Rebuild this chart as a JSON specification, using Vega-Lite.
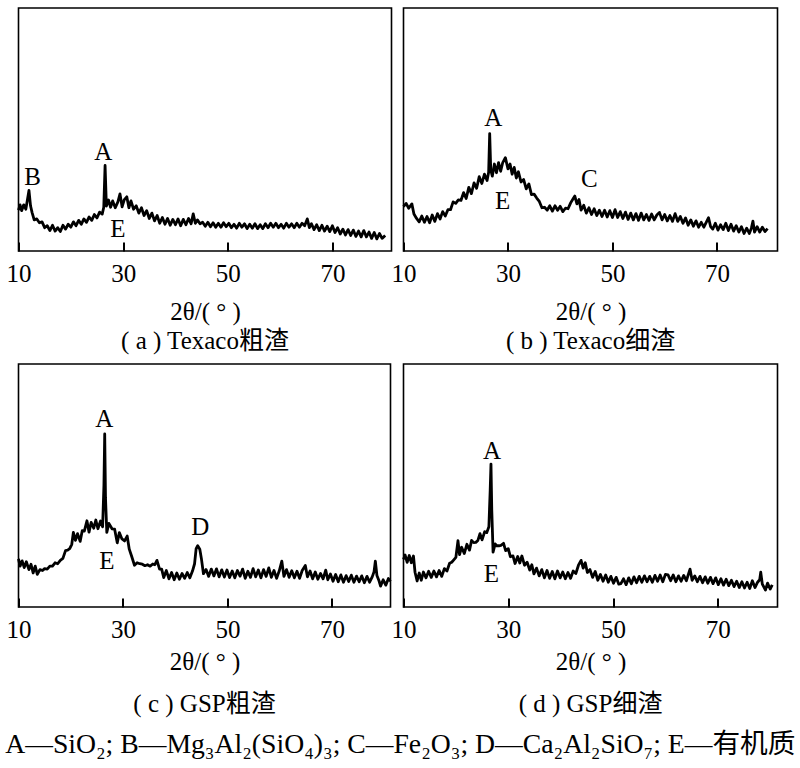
{
  "$schema": "https://vega.github.io/schema/vega-lite/v6.json",
  "background": "white",
  "padding": {"left": 4.5, "top": 7, "right": 0, "bottom": 0},
  "align": "none",
  "columns": 2,
  "spacing": {"row": 8, "column": -4},
  "title": {
    "text": "A—SiO₂; B—Mg₃Al₂(SiO₄)₃; C—Fe₂O₃; D—Ca₂Al₂SiO₇; E—有机质",
    "orient": "bottom",
    "anchor": "start",
    "frame": "bounds",
    "fontSize": 27.7,
    "offset": 13
  },
  "datasets": {
    "a": [
      {"t": 10.0, "i": 16.8}, {"t": 10.3, "i": 19.0}, {"t": 10.6, "i": 16.6}, {"t": 11.0, "i": 19.0}, {"t": 11.4, "i": 17.2},
      {"t": 11.7, "i": 21.0}, {"t": 12.0, "i": 24.9}, {"t": 12.3, "i": 18.6}, {"t": 12.6, "i": 15.8}, {"t": 13.0, "i": 12.8},
      {"t": 13.5, "i": 13.2}, {"t": 14.0, "i": 11.6}, {"t": 14.5, "i": 12.0}, {"t": 15.0, "i": 9.6}, {"t": 15.5, "i": 10.4},
      {"t": 16.0, "i": 8.4}, {"t": 16.5, "i": 10.6}, {"t": 17.0, "i": 8.2}, {"t": 17.5, "i": 9.6}, {"t": 18.0, "i": 8.0},
      {"t": 18.5, "i": 10.6}, {"t": 19.0, "i": 9.0}, {"t": 19.5, "i": 11.0}, {"t": 20.0, "i": 9.8}, {"t": 20.5, "i": 12.0},
      {"t": 21.0, "i": 10.4}, {"t": 21.5, "i": 12.6}, {"t": 22.0, "i": 11.0}, {"t": 22.5, "i": 13.2}, {"t": 23.0, "i": 11.8},
      {"t": 23.5, "i": 14.0}, {"t": 24.0, "i": 12.6}, {"t": 24.5, "i": 15.0}, {"t": 25.0, "i": 13.6}, {"t": 25.5, "i": 16.0},
      {"t": 26.0, "i": 15.2}, {"t": 26.3, "i": 18.0}, {"t": 26.55, "i": 35.2}, {"t": 26.8, "i": 18.5}, {"t": 27.2, "i": 21.0},
      {"t": 27.6, "i": 18.0}, {"t": 28.0, "i": 20.6}, {"t": 28.5, "i": 17.8}, {"t": 29.0, "i": 20.2}, {"t": 29.4, "i": 23.5},
      {"t": 29.8, "i": 18.2}, {"t": 30.2, "i": 21.0}, {"t": 30.7, "i": 22.3}, {"t": 31.1, "i": 17.8}, {"t": 31.5, "i": 20.6},
      {"t": 32.0, "i": 17.2}, {"t": 32.5, "i": 18.6}, {"t": 33.0, "i": 15.6}, {"t": 33.5, "i": 17.8}, {"t": 34.0, "i": 14.6},
      {"t": 34.5, "i": 16.6}, {"t": 35.0, "i": 13.4}, {"t": 35.5, "i": 15.6}, {"t": 36.0, "i": 12.4}, {"t": 36.5, "i": 14.6},
      {"t": 37.0, "i": 11.4}, {"t": 37.5, "i": 13.8}, {"t": 38.0, "i": 11.0}, {"t": 38.5, "i": 13.4}, {"t": 39.0, "i": 10.6},
      {"t": 39.5, "i": 13.0}, {"t": 40.0, "i": 10.8}, {"t": 40.5, "i": 13.2}, {"t": 41.0, "i": 10.4}, {"t": 41.5, "i": 13.0},
      {"t": 42.0, "i": 10.8}, {"t": 42.5, "i": 13.4}, {"t": 43.0, "i": 11.2}, {"t": 43.4, "i": 15.3}, {"t": 43.8, "i": 11.4},
      {"t": 44.2, "i": 12.8}, {"t": 44.7, "i": 11.2}, {"t": 45.2, "i": 11.8}, {"t": 45.7, "i": 10.2}, {"t": 46.2, "i": 11.8},
      {"t": 46.7, "i": 10.0}, {"t": 47.2, "i": 11.6}, {"t": 47.7, "i": 9.8}, {"t": 48.2, "i": 11.4}, {"t": 48.7, "i": 9.8},
      {"t": 49.2, "i": 11.6}, {"t": 49.7, "i": 10.0}, {"t": 50.2, "i": 11.4}, {"t": 50.7, "i": 9.6}, {"t": 51.2, "i": 11.0},
      {"t": 51.7, "i": 9.4}, {"t": 52.2, "i": 11.4}, {"t": 52.7, "i": 9.8}, {"t": 53.2, "i": 11.2}, {"t": 53.7, "i": 9.2},
      {"t": 54.2, "i": 11.0}, {"t": 54.7, "i": 9.4}, {"t": 55.2, "i": 11.2}, {"t": 55.7, "i": 9.2}, {"t": 56.2, "i": 10.8},
      {"t": 56.7, "i": 9.2}, {"t": 57.2, "i": 11.2}, {"t": 57.7, "i": 9.6}, {"t": 58.2, "i": 11.4}, {"t": 58.7, "i": 9.8},
      {"t": 59.2, "i": 11.4}, {"t": 59.7, "i": 9.6}, {"t": 60.2, "i": 11.0}, {"t": 60.7, "i": 9.4}, {"t": 61.2, "i": 11.4},
      {"t": 61.7, "i": 9.8}, {"t": 62.2, "i": 11.2}, {"t": 62.7, "i": 9.6}, {"t": 63.2, "i": 11.4}, {"t": 63.7, "i": 9.8},
      {"t": 64.2, "i": 11.4}, {"t": 64.7, "i": 10.4}, {"t": 65.2, "i": 13.2}, {"t": 65.6, "i": 9.6}, {"t": 66.0, "i": 11.2},
      {"t": 66.5, "i": 8.8}, {"t": 67.0, "i": 10.8}, {"t": 67.5, "i": 8.4}, {"t": 68.0, "i": 10.6}, {"t": 68.5, "i": 8.2},
      {"t": 69.0, "i": 10.2}, {"t": 69.5, "i": 8.0}, {"t": 70.0, "i": 10.4}, {"t": 70.5, "i": 7.6}, {"t": 71.0, "i": 9.6},
      {"t": 71.5, "i": 7.0}, {"t": 72.0, "i": 9.0}, {"t": 72.5, "i": 6.6}, {"t": 73.0, "i": 8.8}, {"t": 73.5, "i": 6.4},
      {"t": 74.0, "i": 8.6}, {"t": 74.5, "i": 6.0}, {"t": 75.0, "i": 8.2}, {"t": 75.5, "i": 5.8}, {"t": 76.0, "i": 8.4},
      {"t": 76.5, "i": 5.8}, {"t": 77.0, "i": 7.8}, {"t": 77.5, "i": 5.2}, {"t": 78.0, "i": 7.6}, {"t": 78.5, "i": 5.0},
      {"t": 79.0, "i": 7.2}, {"t": 79.5, "i": 5.2}, {"t": 80.1, "i": 6.4}
    ],
    "b": [
      {"t": 10.0, "i": 18.3}, {"t": 10.5, "i": 19.6}, {"t": 11.0, "i": 17.6}, {"t": 11.6, "i": 19.4}, {"t": 12.0, "i": 15.2},
      {"t": 12.5, "i": 13.4}, {"t": 13.0, "i": 12.0}, {"t": 13.5, "i": 14.4}, {"t": 14.0, "i": 11.8}, {"t": 14.5, "i": 14.2},
      {"t": 15.0, "i": 11.6}, {"t": 15.5, "i": 14.8}, {"t": 16.0, "i": 12.2}, {"t": 16.5, "i": 15.4}, {"t": 17.0, "i": 13.2},
      {"t": 17.5, "i": 16.2}, {"t": 18.0, "i": 14.4}, {"t": 18.5, "i": 17.0}, {"t": 19.0, "i": 17.0}, {"t": 19.5, "i": 20.2},
      {"t": 20.0, "i": 19.6}, {"t": 20.5, "i": 21.0}, {"t": 21.0, "i": 20.8}, {"t": 21.5, "i": 24.0}, {"t": 22.0, "i": 21.6},
      {"t": 22.5, "i": 26.2}, {"t": 23.0, "i": 23.6}, {"t": 23.5, "i": 28.0}, {"t": 24.0, "i": 25.8}, {"t": 24.5, "i": 30.6},
      {"t": 25.0, "i": 27.8}, {"t": 25.5, "i": 31.6}, {"t": 26.0, "i": 29.0}, {"t": 26.3, "i": 32.4}, {"t": 26.5, "i": 48.3},
      {"t": 26.7, "i": 33.5}, {"t": 27.0, "i": 30.8}, {"t": 27.4, "i": 35.8}, {"t": 27.8, "i": 32.2}, {"t": 28.2, "i": 36.4},
      {"t": 28.6, "i": 32.8}, {"t": 29.0, "i": 36.4}, {"t": 29.5, "i": 38.4}, {"t": 30.0, "i": 33.8}, {"t": 30.4, "i": 35.8},
      {"t": 30.8, "i": 31.6}, {"t": 31.2, "i": 34.4}, {"t": 31.6, "i": 30.0}, {"t": 32.0, "i": 32.6}, {"t": 32.5, "i": 28.4},
      {"t": 33.0, "i": 29.4}, {"t": 33.5, "i": 25.6}, {"t": 34.0, "i": 27.6}, {"t": 34.5, "i": 23.2}, {"t": 35.0, "i": 23.4},
      {"t": 35.5, "i": 21.8}, {"t": 36.0, "i": 20.4}, {"t": 36.5, "i": 17.8}, {"t": 37.0, "i": 18.0}, {"t": 37.5, "i": 16.8},
      {"t": 38.0, "i": 18.6}, {"t": 38.5, "i": 16.4}, {"t": 39.0, "i": 18.6}, {"t": 39.5, "i": 16.8}, {"t": 40.0, "i": 18.4},
      {"t": 40.5, "i": 16.2}, {"t": 41.0, "i": 17.6}, {"t": 41.5, "i": 17.4}, {"t": 42.0, "i": 19.8}, {"t": 42.5, "i": 21.6},
      {"t": 42.8, "i": 22.6}, {"t": 43.2, "i": 19.4}, {"t": 43.6, "i": 21.2}, {"t": 44.0, "i": 16.8}, {"t": 44.5, "i": 18.8},
      {"t": 45.0, "i": 15.6}, {"t": 45.5, "i": 17.8}, {"t": 46.0, "i": 15.0}, {"t": 46.5, "i": 17.4}, {"t": 47.0, "i": 14.6},
      {"t": 47.5, "i": 16.8}, {"t": 48.0, "i": 14.2}, {"t": 48.5, "i": 16.8}, {"t": 49.0, "i": 14.0}, {"t": 49.5, "i": 16.6},
      {"t": 50.0, "i": 13.8}, {"t": 50.5, "i": 17.0}, {"t": 51.0, "i": 13.8}, {"t": 51.5, "i": 16.2}, {"t": 52.0, "i": 13.4},
      {"t": 52.5, "i": 16.0}, {"t": 53.0, "i": 13.0}, {"t": 53.5, "i": 15.6}, {"t": 54.0, "i": 12.8}, {"t": 54.5, "i": 15.4},
      {"t": 55.0, "i": 12.6}, {"t": 55.5, "i": 15.6}, {"t": 56.0, "i": 12.8}, {"t": 56.5, "i": 15.0}, {"t": 57.0, "i": 12.6},
      {"t": 57.5, "i": 15.2}, {"t": 58.0, "i": 12.8}, {"t": 58.5, "i": 14.8}, {"t": 59.0, "i": 15.9}, {"t": 59.5, "i": 12.8},
      {"t": 60.0, "i": 15.0}, {"t": 60.5, "i": 12.4}, {"t": 61.0, "i": 14.6}, {"t": 61.5, "i": 12.2}, {"t": 62.0, "i": 15.4},
      {"t": 62.5, "i": 12.2}, {"t": 63.0, "i": 14.2}, {"t": 63.5, "i": 11.4}, {"t": 64.0, "i": 13.6}, {"t": 64.5, "i": 10.6},
      {"t": 65.0, "i": 12.8}, {"t": 65.5, "i": 10.2}, {"t": 66.0, "i": 12.4}, {"t": 66.5, "i": 9.8}, {"t": 67.0, "i": 11.8},
      {"t": 67.5, "i": 9.8}, {"t": 68.0, "i": 12.0}, {"t": 68.4, "i": 13.7}, {"t": 68.8, "i": 10.0}, {"t": 69.2, "i": 9.0},
      {"t": 69.7, "i": 11.4}, {"t": 70.2, "i": 8.6}, {"t": 70.7, "i": 10.8}, {"t": 71.2, "i": 8.8}, {"t": 71.7, "i": 11.4},
      {"t": 72.2, "i": 8.4}, {"t": 72.7, "i": 11.0}, {"t": 73.2, "i": 8.2}, {"t": 73.7, "i": 10.4}, {"t": 74.2, "i": 7.8},
      {"t": 74.7, "i": 10.0}, {"t": 75.2, "i": 7.2}, {"t": 75.7, "i": 9.4}, {"t": 76.2, "i": 7.2}, {"t": 76.6, "i": 9.4},
      {"t": 76.9, "i": 12.3}, {"t": 77.2, "i": 7.8}, {"t": 77.7, "i": 10.0}, {"t": 78.2, "i": 7.8}, {"t": 78.7, "i": 9.8},
      {"t": 79.2, "i": 8.0}, {"t": 79.7, "i": 9.2}
    ],
    "c": [
      {"t": 10.0, "i": 19.8}, {"t": 10.3, "i": 16.8}, {"t": 10.7, "i": 19.0}, {"t": 11.1, "i": 16.2}, {"t": 11.5, "i": 18.6},
      {"t": 12.0, "i": 15.4}, {"t": 12.4, "i": 17.6}, {"t": 12.8, "i": 14.0}, {"t": 13.2, "i": 16.8}, {"t": 13.6, "i": 13.4},
      {"t": 14.1, "i": 15.4}, {"t": 14.6, "i": 15.0}, {"t": 15.0, "i": 15.8}, {"t": 15.5, "i": 15.6}, {"t": 16.0, "i": 16.8},
      {"t": 16.5, "i": 16.8}, {"t": 17.0, "i": 18.2}, {"t": 17.5, "i": 17.8}, {"t": 18.0, "i": 19.2}, {"t": 18.5, "i": 20.0},
      {"t": 19.0, "i": 23.2}, {"t": 19.4, "i": 23.4}, {"t": 19.8, "i": 24.0}, {"t": 20.2, "i": 25.8}, {"t": 20.5, "i": 30.7},
      {"t": 20.9, "i": 27.4}, {"t": 21.3, "i": 30.2}, {"t": 21.8, "i": 27.0}, {"t": 22.2, "i": 31.4}, {"t": 22.6, "i": 31.2},
      {"t": 23.1, "i": 35.5}, {"t": 23.5, "i": 30.8}, {"t": 23.9, "i": 34.8}, {"t": 24.4, "i": 32.4}, {"t": 24.8, "i": 35.8},
      {"t": 25.2, "i": 32.2}, {"t": 25.7, "i": 35.4}, {"t": 26.1, "i": 33.0}, {"t": 26.35, "i": 50.0}, {"t": 26.5, "i": 71.2},
      {"t": 26.65, "i": 45.0}, {"t": 26.9, "i": 30.7}, {"t": 27.3, "i": 34.4}, {"t": 27.9, "i": 32.2}, {"t": 28.4, "i": 32.0},
      {"t": 28.9, "i": 26.4}, {"t": 29.3, "i": 30.6}, {"t": 29.8, "i": 28.0}, {"t": 30.3, "i": 27.2}, {"t": 30.8, "i": 29.2},
      {"t": 31.2, "i": 23.8}, {"t": 31.7, "i": 20.6}, {"t": 32.2, "i": 17.2}, {"t": 32.7, "i": 18.2}, {"t": 33.2, "i": 17.8},
      {"t": 33.7, "i": 17.6}, {"t": 34.2, "i": 17.0}, {"t": 34.7, "i": 17.4}, {"t": 35.2, "i": 16.8}, {"t": 35.7, "i": 17.7},
      {"t": 36.1, "i": 17.4}, {"t": 36.5, "i": 19.2}, {"t": 37.0, "i": 15.6}, {"t": 37.4, "i": 15.6}, {"t": 37.8, "i": 12.1},
      {"t": 38.3, "i": 15.0}, {"t": 38.8, "i": 11.6}, {"t": 39.3, "i": 14.2}, {"t": 39.8, "i": 11.2}, {"t": 40.3, "i": 14.0},
      {"t": 40.8, "i": 11.4}, {"t": 41.3, "i": 13.8}, {"t": 41.8, "i": 11.8}, {"t": 42.3, "i": 14.2}, {"t": 42.8, "i": 12.0},
      {"t": 43.3, "i": 14.8}, {"t": 43.7, "i": 17.8}, {"t": 44.0, "i": 24.0}, {"t": 44.3, "i": 25.2}, {"t": 44.7, "i": 23.8},
      {"t": 45.0, "i": 20.0}, {"t": 45.4, "i": 13.7}, {"t": 45.9, "i": 15.4}, {"t": 46.4, "i": 12.6}, {"t": 46.9, "i": 15.6},
      {"t": 47.4, "i": 12.8}, {"t": 47.9, "i": 15.7}, {"t": 48.4, "i": 12.4}, {"t": 48.9, "i": 15.3}, {"t": 49.4, "i": 12.3},
      {"t": 49.9, "i": 15.2}, {"t": 50.4, "i": 12.1}, {"t": 50.9, "i": 14.8}, {"t": 51.4, "i": 12.0}, {"t": 51.9, "i": 15.0},
      {"t": 52.4, "i": 12.7}, {"t": 52.9, "i": 15.6}, {"t": 53.4, "i": 11.8}, {"t": 53.9, "i": 14.7}, {"t": 54.4, "i": 12.2},
      {"t": 54.9, "i": 15.8}, {"t": 55.4, "i": 12.4}, {"t": 55.9, "i": 15.2}, {"t": 56.4, "i": 12.0}, {"t": 56.9, "i": 15.4},
      {"t": 57.4, "i": 12.6}, {"t": 57.9, "i": 16.1}, {"t": 58.4, "i": 12.2}, {"t": 58.9, "i": 15.0}, {"t": 59.4, "i": 11.8},
      {"t": 59.9, "i": 14.8}, {"t": 60.4, "i": 18.9}, {"t": 60.8, "i": 12.6}, {"t": 61.3, "i": 15.4}, {"t": 61.8, "i": 12.2},
      {"t": 62.3, "i": 14.9}, {"t": 62.8, "i": 12.0}, {"t": 63.3, "i": 14.7}, {"t": 63.8, "i": 11.8}, {"t": 64.3, "i": 15.0},
      {"t": 64.9, "i": 17.1}, {"t": 65.3, "i": 12.4}, {"t": 65.8, "i": 14.8}, {"t": 66.3, "i": 11.6}, {"t": 66.8, "i": 14.4},
      {"t": 67.3, "i": 11.4}, {"t": 67.8, "i": 13.8}, {"t": 68.3, "i": 11.6}, {"t": 68.8, "i": 15.2}, {"t": 69.2, "i": 11.2},
      {"t": 69.7, "i": 13.6}, {"t": 70.2, "i": 10.6}, {"t": 70.7, "i": 13.4}, {"t": 71.2, "i": 10.4}, {"t": 71.7, "i": 13.2},
      {"t": 72.2, "i": 10.2}, {"t": 72.7, "i": 12.9}, {"t": 73.2, "i": 10.5}, {"t": 73.7, "i": 13.1}, {"t": 74.2, "i": 10.2},
      {"t": 74.7, "i": 12.7}, {"t": 75.2, "i": 10.4}, {"t": 75.7, "i": 12.8}, {"t": 76.2, "i": 10.0}, {"t": 76.7, "i": 12.6},
      {"t": 77.2, "i": 10.2}, {"t": 77.7, "i": 12.4}, {"t": 78.05, "i": 14.5}, {"t": 78.3, "i": 18.9}, {"t": 78.6, "i": 13.0},
      {"t": 79.0, "i": 10.8}, {"t": 79.3, "i": 8.6}, {"t": 79.8, "i": 11.2}, {"t": 80.3, "i": 9.0}, {"t": 80.8, "i": 11.7},
      {"t": 81.2, "i": 10.6}
    ],
    "d": [
      {"t": 10.0, "i": 19.6}, {"t": 10.3, "i": 21.4}, {"t": 10.7, "i": 18.4}, {"t": 11.1, "i": 21.2}, {"t": 11.5, "i": 18.2},
      {"t": 11.9, "i": 21.0}, {"t": 12.2, "i": 14.3}, {"t": 12.6, "i": 10.7}, {"t": 13.0, "i": 14.0}, {"t": 13.4, "i": 11.0},
      {"t": 13.8, "i": 14.4}, {"t": 14.3, "i": 12.0}, {"t": 14.8, "i": 14.7}, {"t": 15.3, "i": 12.2}, {"t": 15.8, "i": 14.8},
      {"t": 16.3, "i": 12.4}, {"t": 16.8, "i": 15.0}, {"t": 17.3, "i": 12.6}, {"t": 17.8, "i": 15.8}, {"t": 18.3, "i": 14.8},
      {"t": 18.8, "i": 18.0}, {"t": 19.2, "i": 18.4}, {"t": 19.6, "i": 19.4}, {"t": 20.0, "i": 20.4}, {"t": 20.4, "i": 27.3},
      {"t": 20.7, "i": 21.6}, {"t": 21.1, "i": 24.6}, {"t": 21.6, "i": 22.0}, {"t": 22.1, "i": 25.8}, {"t": 22.6, "i": 23.4},
      {"t": 23.0, "i": 27.4}, {"t": 23.4, "i": 26.5}, {"t": 23.8, "i": 26.6}, {"t": 24.2, "i": 27.4}, {"t": 24.6, "i": 30.2},
      {"t": 25.0, "i": 27.6}, {"t": 25.5, "i": 31.0}, {"t": 25.9, "i": 30.6}, {"t": 26.3, "i": 33.0}, {"t": 26.55, "i": 48.0},
      {"t": 26.7, "i": 58.8}, {"t": 26.85, "i": 40.0}, {"t": 27.1, "i": 22.6}, {"t": 27.5, "i": 26.0}, {"t": 27.8, "i": 25.2},
      {"t": 28.2, "i": 25.2}, {"t": 28.6, "i": 25.4}, {"t": 29.1, "i": 26.2}, {"t": 29.5, "i": 23.2}, {"t": 30.0, "i": 24.0},
      {"t": 30.4, "i": 20.7}, {"t": 30.9, "i": 21.0}, {"t": 31.3, "i": 17.9}, {"t": 31.8, "i": 20.8}, {"t": 32.2, "i": 18.1},
      {"t": 32.6, "i": 21.0}, {"t": 33.1, "i": 17.2}, {"t": 33.6, "i": 18.4}, {"t": 34.1, "i": 15.2}, {"t": 34.5, "i": 17.4},
      {"t": 34.9, "i": 13.6}, {"t": 35.4, "i": 16.0}, {"t": 35.9, "i": 12.8}, {"t": 36.4, "i": 15.4}, {"t": 36.9, "i": 12.0},
      {"t": 37.4, "i": 15.0}, {"t": 37.9, "i": 11.8}, {"t": 38.4, "i": 14.6}, {"t": 38.9, "i": 11.6}, {"t": 39.4, "i": 14.8},
      {"t": 39.9, "i": 12.0}, {"t": 40.4, "i": 14.4}, {"t": 40.9, "i": 11.6}, {"t": 41.4, "i": 14.2}, {"t": 41.9, "i": 11.8},
      {"t": 42.4, "i": 14.8}, {"t": 42.9, "i": 13.8}, {"t": 43.4, "i": 17.2}, {"t": 43.9, "i": 19.2}, {"t": 44.3, "i": 16.0},
      {"t": 44.7, "i": 18.2}, {"t": 45.1, "i": 14.2}, {"t": 45.6, "i": 15.4}, {"t": 46.1, "i": 12.2}, {"t": 46.6, "i": 14.6},
      {"t": 47.1, "i": 11.0}, {"t": 47.6, "i": 13.4}, {"t": 48.1, "i": 10.6}, {"t": 48.6, "i": 13.2}, {"t": 49.1, "i": 10.2},
      {"t": 49.6, "i": 12.6}, {"t": 50.1, "i": 9.8}, {"t": 50.6, "i": 12.2}, {"t": 51.1, "i": 9.4}, {"t": 51.5, "i": 9.6},
      {"t": 52.0, "i": 11.6}, {"t": 52.5, "i": 9.2}, {"t": 53.0, "i": 12.0}, {"t": 53.5, "i": 9.6}, {"t": 54.0, "i": 12.4},
      {"t": 54.5, "i": 10.0}, {"t": 55.0, "i": 12.6}, {"t": 55.5, "i": 10.2}, {"t": 56.0, "i": 12.8}, {"t": 56.5, "i": 10.4},
      {"t": 57.0, "i": 12.6}, {"t": 57.5, "i": 10.2}, {"t": 58.0, "i": 13.0}, {"t": 58.5, "i": 10.6}, {"t": 59.0, "i": 13.2},
      {"t": 59.5, "i": 10.4}, {"t": 60.0, "i": 13.4}, {"t": 60.5, "i": 13.2}, {"t": 61.0, "i": 10.8}, {"t": 61.5, "i": 13.2},
      {"t": 62.0, "i": 10.4}, {"t": 62.5, "i": 12.8}, {"t": 63.0, "i": 10.6}, {"t": 63.5, "i": 13.0}, {"t": 64.0, "i": 10.8},
      {"t": 64.7, "i": 15.6}, {"t": 65.1, "i": 11.0}, {"t": 65.6, "i": 12.8}, {"t": 66.1, "i": 10.4}, {"t": 66.6, "i": 12.6},
      {"t": 67.1, "i": 10.0}, {"t": 67.6, "i": 12.4}, {"t": 68.1, "i": 9.8}, {"t": 68.6, "i": 12.2}, {"t": 69.1, "i": 9.6},
      {"t": 69.6, "i": 12.0}, {"t": 70.1, "i": 9.2}, {"t": 70.6, "i": 11.6}, {"t": 71.1, "i": 9.0}, {"t": 71.6, "i": 11.4},
      {"t": 72.1, "i": 8.8}, {"t": 72.6, "i": 11.0}, {"t": 73.1, "i": 8.4}, {"t": 73.6, "i": 10.6}, {"t": 74.1, "i": 8.0},
      {"t": 74.6, "i": 10.4}, {"t": 75.1, "i": 7.8}, {"t": 75.6, "i": 10.2}, {"t": 76.1, "i": 7.6}, {"t": 76.6, "i": 10.8},
      {"t": 77.1, "i": 8.0}, {"t": 77.6, "i": 10.2}, {"t": 78.0, "i": 11.2}, {"t": 78.2, "i": 14.3}, {"t": 78.5, "i": 9.4},
      {"t": 79.1, "i": 7.0}, {"t": 79.5, "i": 9.8}, {"t": 80.0, "i": 7.4}, {"t": 80.4, "i": 9.1}
    ],
    "lab": [
      {"p": "a", "s": "B", "t": 12.7, "i": 30.4},
      {"p": "a", "s": "A", "t": 26.2, "i": 40.7},
      {"p": "a", "s": "E", "t": 29.0, "i": 9.1},
      {"p": "b", "s": "A", "t": 27.2, "i": 54.9},
      {"p": "b", "s": "C", "t": 45.6, "i": 29.5},
      {"p": "b", "s": "E", "t": 29.0, "i": 20.6},
      {"p": "c", "s": "A", "t": 26.4, "i": 77.4},
      {"p": "c", "s": "D", "t": 44.8, "i": 32.8},
      {"p": "c", "s": "E", "t": 26.9, "i": 19.1},
      {"p": "d", "s": "A", "t": 26.9, "i": 64.3},
      {"p": "d", "s": "E", "t": 26.8, "i": 13.6}
    ]
  },
  "concat": [
    {
      "width": 373,
      "height": 243,
      "title": {"text": "( a ) Texaco粗渣", "offset": 5},
      "encoding": {
        "x": {"field": "t", "type": "quantitative", "scale": {"domain": [10, 81.3], "nice": false, "zero": false}, "axis": {"title": "2θ/( ° )", "titlePadding": 13, "values": [10, 30, 50, 70]}},
        "y": {"field": "i", "type": "quantitative", "scale": {"domain": [0, 100], "nice": false}, "axis": null}
      },
      "layer": [
        {"data": {"name": "a"}, "mark": {"type": "line", "color": "black", "strokeWidth": 2.8, "strokeJoin": "round"}, "encoding": {}},
        {"data": {"name": "lab"}, "transform": [{"filter": "datum.p == 'a'"}], "mark": {"type": "text", "fontSize": 25, "baseline": "middle"}, "encoding": {"text": {"field": "s"}}}
      ]
    },
    {
      "width": 374,
      "height": 243,
      "title": {"text": "( b ) Texaco细渣", "offset": 5},
      "encoding": {
        "x": {"field": "t", "type": "quantitative", "scale": {"domain": [10, 81.6], "nice": false, "zero": false}, "axis": {"title": "2θ/( ° )", "titlePadding": 13, "values": [10, 30, 50, 70]}},
        "y": {"field": "i", "type": "quantitative", "scale": {"domain": [0, 100], "nice": false}, "axis": null}
      },
      "layer": [
        {"data": {"name": "b"}, "mark": {"type": "line", "color": "black", "strokeWidth": 2.8, "strokeJoin": "round"}, "encoding": {}},
        {"data": {"name": "lab"}, "transform": [{"filter": "datum.p == 'b'"}], "mark": {"type": "text", "fontSize": 25, "baseline": "middle"}, "encoding": {"text": {"field": "s"}}}
      ]
    },
    {
      "width": 372,
      "height": 243,
      "title": {"text": "( c ) GSP粗渣", "offset": 18},
      "encoding": {
        "x": {"field": "t", "type": "quantitative", "scale": {"domain": [10, 81.2], "nice": false, "zero": false}, "axis": {"title": "2θ/( ° )", "titlePadding": 7, "values": [10, 30, 50, 70]}},
        "y": {"field": "i", "type": "quantitative", "scale": {"domain": [0, 100], "nice": false}, "axis": null}
      },
      "layer": [
        {"data": {"name": "c"}, "mark": {"type": "line", "color": "black", "strokeWidth": 2.8, "strokeJoin": "round"}, "encoding": {}},
        {"data": {"name": "lab"}, "transform": [{"filter": "datum.p == 'c'"}], "mark": {"type": "text", "fontSize": 25, "baseline": "middle"}, "encoding": {"text": {"field": "s"}}}
      ]
    },
    {
      "width": 374,
      "height": 243,
      "title": {"text": "( d ) GSP细渣", "offset": 18},
      "encoding": {
        "x": {"field": "t", "type": "quantitative", "scale": {"domain": [10, 81.4], "nice": false, "zero": false}, "axis": {"title": "2θ/( ° )", "titlePadding": 7, "values": [10, 30, 50, 70]}},
        "y": {"field": "i", "type": "quantitative", "scale": {"domain": [0, 100], "nice": false}, "axis": null}
      },
      "layer": [
        {"data": {"name": "d"}, "mark": {"type": "line", "color": "black", "strokeWidth": 2.8, "strokeJoin": "round"}, "encoding": {}},
        {"data": {"name": "lab"}, "transform": [{"filter": "datum.p == 'd'"}], "mark": {"type": "text", "fontSize": 25, "baseline": "middle"}, "encoding": {"text": {"field": "s"}}}
      ]
    }
  ],
  "config": {
    "font": "Liberation Serif",
    "view": {"stroke": "black", "strokeWidth": 1.6},
    "text": {"font": "Liberation Serif", "color": "black"},
    "style": {
      "guide-label": {"font": "Liberation Serif"},
      "guide-title": {"font": "Liberation Serif"}
    },
    "axis": {
      "domain": false,
      "grid": false,
      "ticks": true,
      "tickSize": -9,
      "tickWidth": 2,
      "tickColor": "black",
      "labelFont": "Liberation Serif",
      "labelFontSize": 25,
      "labelColor": "black",
      "labelPadding": 19,
      "labelFlush": false,
      "titleFont": "Liberation Serif",
      "titleFontSize": 25,
      "titleFontWeight": "normal",
      "titleColor": "black"
    },
    "title": {
      "font": "Liberation Serif, Noto Sans CJK SC",
      "fontSize": 25,
      "fontWeight": "normal",
      "color": "black",
      "orient": "bottom",
      "anchor": "middle"
    }
  }
}
